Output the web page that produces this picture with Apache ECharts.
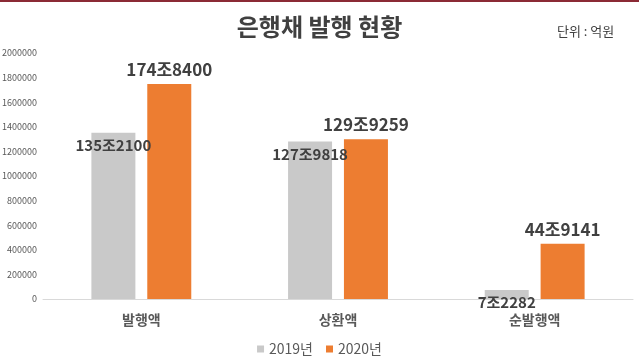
<!DOCTYPE html>
<html>
<head>
<meta charset="utf-8">
<script src="https://cdn.jsdelivr.net/npm/echarts@6/dist/echarts.min.js"></script>
<style>
html,body{margin:0;padding:0;background:#fff;}
#c{width:639px;height:362px;}
</style>
</head>
<body>
<div id="c"></div>
<script>
const categories = ['발행액', '상환액', '순발행액'];
const seriesNames = ['2019년', '2020년'];
const values2019 = [1352100, 1279818, 72282];
const values2020 = [1748400, 1299259, 449141];
const yTicks = { min: 0, max: 2000000, interval: 200000 };
const titleText = '은행채 발행 현황';
const unitText = '단위 : 억원';

const FONT = '"Noto Sans CJK KR", "Noto Sans", sans-serif';
function fmt(v) {
  const jo = Math.floor(v / 10000);
  const rest = String(v % 10000).padStart(4, '0');
  return jo + '조' + rest;
}

const chart = echarts.init(document.getElementById('c'));
chart.setOption({
  animation: false,
  textStyle: { fontFamily: FONT },
  title: {
    text: titleText,
    left: 'center',
    top: 10,
    padding: [5, 0, 5, 6],
    textStyle: { fontSize: 24, fontWeight: 'bold', color: '#404040', fontFamily: FONT }
  },
  graphic: [
    { type: 'rect', shape: { x: 0, y: 0, width: 639, height: 2 }, style: { fill: '#8b2a35' } },
    { type: 'text', left: 557, top: 25, style: { text: unitText, fontSize: 13, fill: '#404040', fontFamily: FONT } }
  ],
  legend: {
    data: seriesNames,
    left: 'center',
    top: 337,
    icon: 'rect',
    itemWidth: 7,
    itemHeight: 7,
    itemGap: 13,
    textStyle: { fontSize: 14, color: '#595959', fontFamily: FONT }
  },
  grid: { left: 43, right: 6, top: 53, bottom: 63, containLabel: false, outerBoundsMode: 'none' },
  xAxis: {
    type: 'category',
    data: categories,
    axisLine: { lineStyle: { color: '#d9d9d9', width: 1 } },
    axisTick: { show: false },
    axisLabel: { fontSize: 14, fontWeight: 'bold', color: '#595959', margin: 14, fontFamily: FONT }
  },
  yAxis: {
    type: 'value',
    min: yTicks.min,
    max: yTicks.max,
    interval: yTicks.interval,
    axisLine: { show: false },
    axisTick: { show: false },
    splitLine: { show: false },
    axisLabel: { fontSize: 9, color: '#595959', margin: 6, fontFamily: FONT, formatter: v => String(v) }
  },
  series: [
    {
      name: seriesNames[0],
      type: 'bar',
      data: values2019,
      barWidth: 44,
      barGap: '27%',
      itemStyle: { color: '#c9c9c9' },
      label: {
        show: true,
        position: 'insideTop',
        distance: 5,
        formatter: p => fmt(p.value),
        fontSize: 15,
        fontWeight: 'bold',
        color: '#404040',
        fontFamily: FONT
      }
    },
    {
      name: seriesNames[1],
      type: 'bar',
      data: values2020,
      barWidth: 44,
      itemStyle: { color: '#ed7d31' },
      label: {
        show: true,
        position: 'top',
        distance: 6,
        formatter: p => fmt(p.value),
        fontSize: 17,
        fontWeight: 'bold',
        color: '#404040',
        fontFamily: FONT
      }
    }
  ]
});
</script>
</body>
</html>
